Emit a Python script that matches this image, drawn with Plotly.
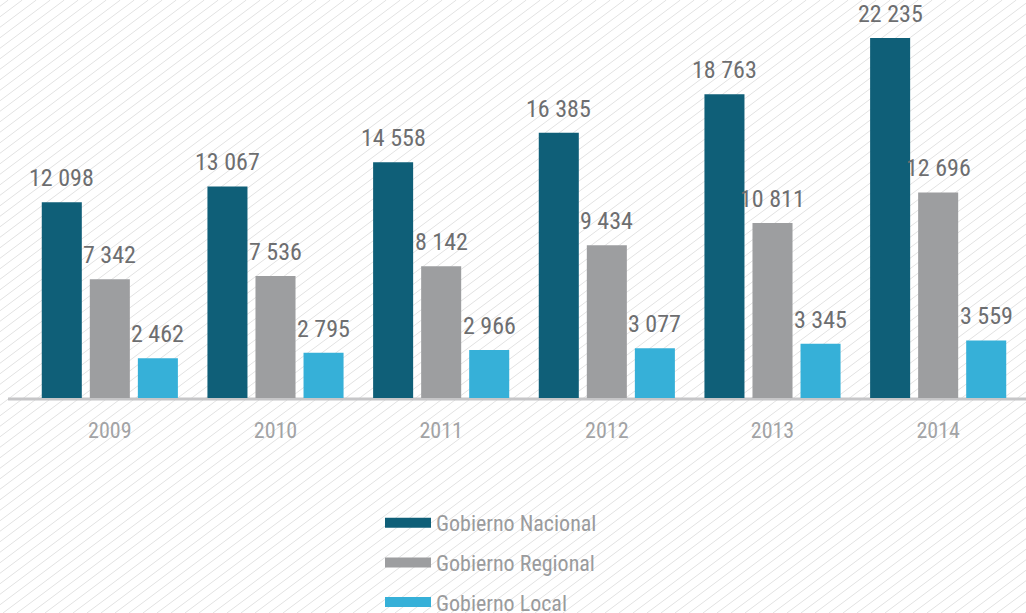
import plotly.graph_objects as go

years = ["2009", "2010", "2011", "2012", "2013", "2014"]
nacional = [12098, 13067, 14558, 16385, 18763, 22235]
regional = [7342, 7536, 8142, 9434, 10811, 12696]
local = [2462, 2795, 2966, 3077, 3345, 3559]

series_names = ["Gobierno Nacional", "Gobierno Regional", "Gobierno Local"]
series_colors = ["#0f5f78", "#9d9ea0", "#36b0d8"]
series_values = [nacional, regional, local]

W, H = 1026, 613
ML, MR, MT, MB = 27, 5, 10, 215
PW, PH = W - ML - MR, H - MT - MB

FONT = "Roboto Condensed, Liberation Sans Narrow, sans-serif"


def px_to_paper(px, py):
    return (px - ML) / PW, (H - MB - py) / PH


fig = go.Figure()

for name, vals, col in zip(series_names, series_values, series_colors):
    fig.add_trace(go.Bar(
        x=years, y=vals, name=name,
        marker=dict(color=col, line=dict(width=0)),
        showlegend=False,
        hoverinfo="x+y+name",
    ))

# value labels above each bar (slot width 48px inside each group)
# category axis -> annotation x given as category index
annotations = []
for i, vals in enumerate(series_values):
    for j, v in enumerate(vals):
        annotations.append(dict(
            x=j, y=v, xref="x", yref="y",
            text=f"{v:,}".replace(",", " "),
            showarrow=False, xanchor="center", yanchor="bottom",
            xshift=(i - 1) * 48, yshift=8,
            font=dict(family=FONT, size=24, color="#6d6e70"),
        ))

# legend entries as wide rectangles
for i, (name, col) in enumerate(zip(series_names, series_colors)):
    fig.add_trace(go.Scatter(
        x=[years[0]], y=[None], mode="lines", name=name,
        line=dict(color=col, width=12),
        legendgroup=str(i), hoverinfo="skip",
    ))

# diagonal hatch background
segs = []
slope = 0.75
x0 = -int(H / slope) - 20
while x0 < W + 20:
    ax, ay = px_to_paper(x0, H)
    bx, by = px_to_paper(x0 + H / slope, 0)
    segs.append(f"M{ax:.5f},{ay:.5f}L{bx:.5f},{by:.5f}")
    x0 += 14
shapes = [dict(type="path", xref="paper", yref="paper", path="".join(segs),
               line=dict(color="#e2e2e2", width=1), layer="below")]

# baseline
bx0, by0 = px_to_paper(8, 399)
bx1, _ = px_to_paper(W, 399)
shapes.append(dict(type="line", xref="paper", yref="paper",
                   x0=bx0, x1=bx1, y0=by0, y1=by0,
                   line=dict(color="#c6c6c8", width=3), layer="below"))

lx, ly = px_to_paper(380, 502)

fig.update_layout(
    width=W, height=H,
    margin=dict(l=ML, r=MR, t=MT, b=MB, autoexpand=False),
    paper_bgcolor="white",
    plot_bgcolor="rgba(0,0,0,0)",
    barmode="group",
    bargap=0.13,
    bargroupgap=0.1667,
    shapes=shapes,
    annotations=annotations,
    xaxis=dict(type="category", categoryorder="array", categoryarray=years,
               range=[-0.5, len(years) - 0.5],
               showgrid=False, zeroline=False, showline=False,
               ticks="outside", ticklen=13, tickcolor="rgba(0,0,0,0)",
               tickfont=dict(family=FONT, size=22, color="#a2a3a5")),
    yaxis=dict(range=[0, PH / (360 / 22235)], visible=False, showgrid=False),
    legend=dict(x=lx, y=ly, xanchor="left", yanchor="top",
                orientation="v", itemwidth=46, tracegroupgap=8,
                bgcolor="rgba(0,0,0,0)",
                font=dict(family=FONT, size=22, color="#9a9b9d")),
    showlegend=True,
)

fig.write_html("out.html", config={"displayModeBar": False},
               post_script="document.body.style.margin='0';")
